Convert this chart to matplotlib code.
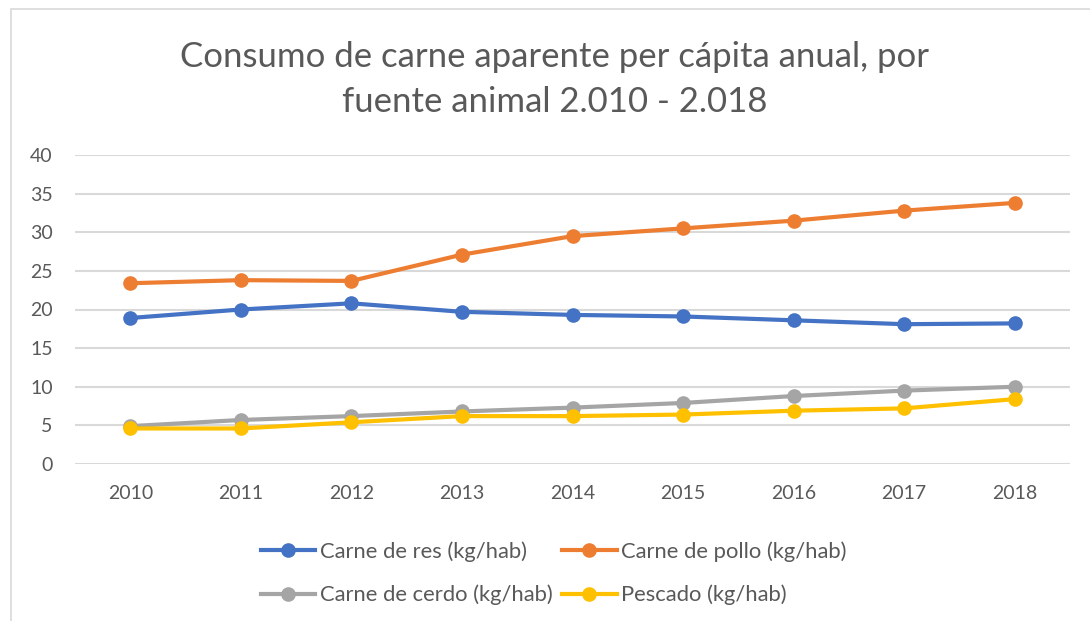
import matplotlib
matplotlib.use("Agg")
import matplotlib.pyplot as plt
from matplotlib.patches import Rectangle

anios = ["2010", "2011", "2012", "2013", "2014", "2015", "2016", "2017", "2018"]
res = [18.9, 20.0, 20.8, 19.7, 19.3, 19.1, 18.6, 18.1, 18.2]
pollo = [23.4, 23.8, 23.7, 27.1, 29.5, 30.5, 31.5, 32.8, 33.8]
cerdo = [4.9, 5.7, 6.2, 6.8, 7.3, 7.9, 8.8, 9.5, 10.0]
pescado = [4.6, 4.6, 5.4, 6.2, 6.2, 6.4, 6.9, 7.2, 8.4]

plt.rcParams["font.family"] = ["Lato", "DejaVu Sans"]
gris_texto = "#595959"

fig = plt.figure(figsize=(10.9, 6.21), dpi=100)
ax = fig.add_axes([75 / 1090, 1 - 464 / 621, 995 / 1090, 309 / 621])

x = range(len(anios))
l1, = ax.plot(x, res, "-o", color="#4472C4", lw=3, ms=9.5, label="Carne de res (kg/hab)")
l2, = ax.plot(x, pollo, "-o", color="#ED7D31", lw=3, ms=9.5, label="Carne de pollo (kg/hab)")
l3, = ax.plot(x, cerdo, "-o", color="#A5A5A5", lw=3, ms=9.5, label="Carne de cerdo (kg/hab)")
l4, = ax.plot(x, pescado, "-o", color="#FFC000", lw=3, ms=9.5, label="Pescado (kg/hab)")

ax.set_xlim(-0.5, len(anios) - 0.5)
ax.set_ylim(0, 40)
ax.set_yticks(range(0, 41, 5))
ax.set_xticks(list(x))
ax.set_xticklabels(anios)
ax.yaxis.grid(True, color="#d9d9d9", lw=1.5)
ax.set_axisbelow(True)
for s in ax.spines.values():
    s.set_visible(False)
ax.tick_params(length=0, labelsize=14, colors=gris_texto, pad=15)
ax.tick_params(axis="y", pad=16)

fig.text(0.509, 0.872, "Consumo de carne aparente per cápita anual, por\nfuente animal 2.010 - 2.018",
         ha="center", va="center", fontsize=25, color=gris_texto, linespacing=1.5)

leg = fig.legend([l1, l3, l2, l4], [l1.get_label(), l3.get_label(), l2.get_label(), l4.get_label()],
                 ncol=2, loc="center", bbox_to_anchor=(0.508, 0.077), frameon=False,
                 fontsize=15.8, handlelength=2.5, handletextpad=0.22, columnspacing=0.4,
                 labelspacing=1.05)
for t in leg.get_texts():
    t.set_color(gris_texto)

fig.patches.append(Rectangle((11 / 1090, -0.01), 1.0, 1 - 9 / 621 + 0.01, transform=fig.transFigure,
                             fill=False, edgecolor="#d9d9d9", lw=1.2))

fig.savefig("out.png", dpi=100)
